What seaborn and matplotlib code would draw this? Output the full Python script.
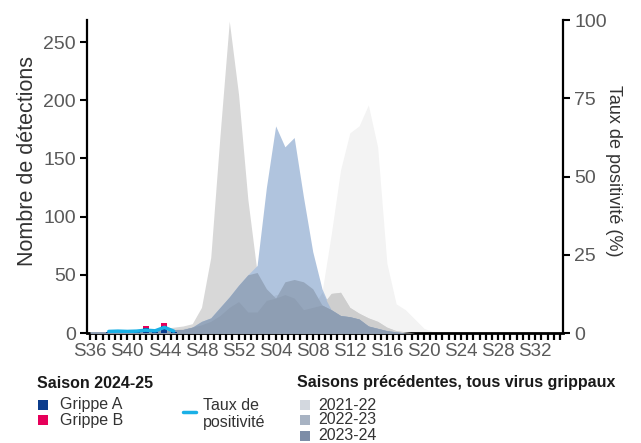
import numpy as np
import seaborn as sns
import matplotlib
matplotlib.use("Agg")
import matplotlib.pyplot as plt
from matplotlib.lines import Line2D
from matplotlib.patches import Rectangle
from matplotlib.colors import to_rgb
from itertools import combinations

# semaines de la saison (S36 -> S35)
weeks = ["S36", "S37", "S38", "S39", "S40", "S41", "S42", "S43", "S44", "S45",
         "S46", "S47", "S48", "S49", "S50", "S51", "S52", "S01", "S02", "S03",
         "S04", "S05", "S06", "S07", "S08", "S09", "S10", "S11", "S12", "S13",
         "S14", "S15", "S16", "S17", "S18", "S19", "S20", "S21", "S22", "S23",
         "S24", "S25", "S26", "S27", "S28", "S29", "S30", "S31", "S32", "S33",
         "S34", "S35"]

# saisons precedentes, nombre de detections (tous virus grippaux)
seasons = ["2021-22", "2022-23", "2023-24"]
det_2021_22 = [1, 1, 1, 1, 1, 2, 2, 2, 3, 3, 4, 5, 7, 10, 15, 22, 27, 18, 18, 28,
               33, 33, 30, 20, 22, 35, 85, 140, 172, 178, 196, 160, 60, 25, 20, 12, 4, 1, 0, 0,
               0, 0, 0, 0, 0, 0, 0, 0, 0, 0, 0, 0]
det_2022_23 = [1, 1, 1, 2, 2, 2, 3, 3, 4, 5, 6, 8, 22, 65, 170, 268, 205, 115, 52, 38,
               30, 44, 46, 44, 38, 24, 34, 35, 22, 17, 13, 10, 5, 2, 1, 0, 0, 0, 0, 0,
               0, 0, 0, 0, 0, 0, 0, 0, 0, 0, 0, 0]
det_2023_24 = [1, 1, 1, 1, 1, 1, 2, 2, 2, 3, 3, 5, 10, 13, 22, 31, 41, 50, 58, 125,
               178, 160, 168, 117, 70, 38, 20, 15, 14, 12, 6, 4, 2, 1, 0, 0, 0, 0, 0, 0,
               0, 0, 0, 0, 0, 0, 0, 0, 0, 0, 0, 0]

# saison 2024-25 (S36 -> S45)
grippe_a = [0, 0, 1, 0, 1, 1, 4, 1, 6, 1]
grippe_b = [0, 0, 0, 0, 0, 0, 2, 0, 3, 0]
positivite = [np.nan, np.nan, 0.5, 0.6, 0.5, 0.6, 0.9, 0.7, 1.8, 0.6]

area_colors = ["#f3f3f3", "#d8d8d8", "#b0c4de"]
legend_colors = ["#d3d8df", "#a8b3c3", "#7d8da7"]
col_a = "#0b3c8c"
col_b = "#e6005a"
col_pos = "#1ab0e6"

sns.set_theme(style="white")
plt.rcParams["font.family"] = ["Liberation Sans", "DejaVu Sans"]

W, H = 641, 443
fig = plt.figure(figsize=(W / 100, H / 100), dpi=100)
ax = fig.add_axes([87 / W, 1 - 333 / H, (563 - 87) / W, (333 - 20) / H])

x = np.arange(len(weeks))
series = [np.array(det_2021_22), np.array(det_2022_23), np.array(det_2023_24)]
rgb = [np.array(to_rgb(c)) for c in area_colors]

# aires des saisons precedentes, superpositions en mode "multiplication"
for s, c in zip(series, rgb):
    ax.fill_between(x, 0, s, color=c, lw=0, zorder=1)
for k in (2, 3):
    for combo in combinations(range(3), k):
        top = np.min([series[i] for i in combo], axis=0)
        col = np.prod([rgb[i] for i in combo], axis=0)
        ax.fill_between(x, 0, top, color=col, lw=0, zorder=1 + k)

# saison en cours, barres empilees
cur_x = np.arange(len(grippe_a))
ax.bar(cur_x, grippe_a, width=0.65, color=col_a, lw=0, zorder=6)
ax.bar(cur_x, grippe_b, bottom=grippe_a, width=0.65, color=col_b, lw=0, zorder=6)

ax.set_xlim(-0.35, 51)
ax.set_ylim(0, 269)
ax.set_yticks([0, 50, 100, 150, 200, 250])
ax.set_xticks(x[::4])
ax.set_xticklabels(weeks[::4])
ax.set_xticks(np.arange(0, 51.01, 2 / 3), minor=True)
ax.set_ylabel("Nombre de détections", fontsize=15.5, color="#333333", labelpad=4)
ax.yaxis.label.set_y(0.548)

ax2 = ax.twinx()
sns.lineplot(x=cur_x, y=positivite, ax=ax2, color=col_pos, lw=2.5, zorder=7)
ax2.set_ylim(0, 100)
ax2.set_yticks([0, 25, 50, 75, 100])
ax2.set_ylabel("Taux de positivité (%)", fontsize=13, color="#333333",
               rotation=-90, labelpad=11)
ax2.yaxis.label.set_y(0.518)

for a in (ax, ax2):
    a.grid(False)
    a.spines["top"].set_visible(False)
ax.spines["right"].set_visible(False)
ax2.spines["left"].set_visible(False)
ax2.spines["bottom"].set_visible(False)
ax.spines["left"].set_linewidth(1.6)
ax.spines["left"].set_color("black")
ax.spines["bottom"].set_linewidth(2)
ax.spines["bottom"].set_color("black")
ax2.spines["right"].set_linewidth(1.6)
ax2.spines["right"].set_color("black")

ax.tick_params(axis="y", left=True, direction="out", length=5, width=1.5,
               color="black", labelcolor="#595959", labelsize=14, pad=3)
ax.tick_params(axis="x", which="both", bottom=True, direction="out", length=5,
               width=1.6, color="black", labelcolor="#595959", labelsize=13.5, pad=2)
ax2.tick_params(axis="y", right=True, direction="out", length=5, width=1.5,
                color="black", labelcolor="#595959", labelsize=14, pad=3)


# legendes (positions en pixels depuis le coin haut gauche)
def ftext(px, py, s, color="#333333", **kw):
    fig.text(px / W, 1 - py / H, s, va="center", ha="left", fontsize=11.5,
             color=color, **kw)


def fsquare(px, py, color, size=10):
    fig.add_artist(Rectangle((px / W, 1 - (py + size / 2) / H), size / W, size / H,
                             transform=fig.transFigure, color=color, lw=0))


ftext(37, 383, "Saison 2024-25", fontweight="bold", color="#1a1a1a")
for py, c, lab in zip([405, 420], [col_a, col_b], ["Grippe A", "Grippe B"]):
    fsquare(38, py, c)
    ftext(60, py, lab)
fig.add_artist(Line2D([183 / W, 196 / W], [1 - 412 / H, 1 - 412 / H], color=col_pos,
                      lw=2.5, transform=fig.transFigure))
ftext(203, 405, "Taux de")
ftext(203, 423, "positivité")

ftext(297, 383, "Saisons précédentes, tous virus grippaux", fontweight="bold",
      color="#1a1a1a")
for py, c, lab in zip([405, 420, 436], legend_colors, seasons):
    fsquare(300, py, c)
    ftext(318, py, lab)

fig.savefig("out.png", dpi=100)
